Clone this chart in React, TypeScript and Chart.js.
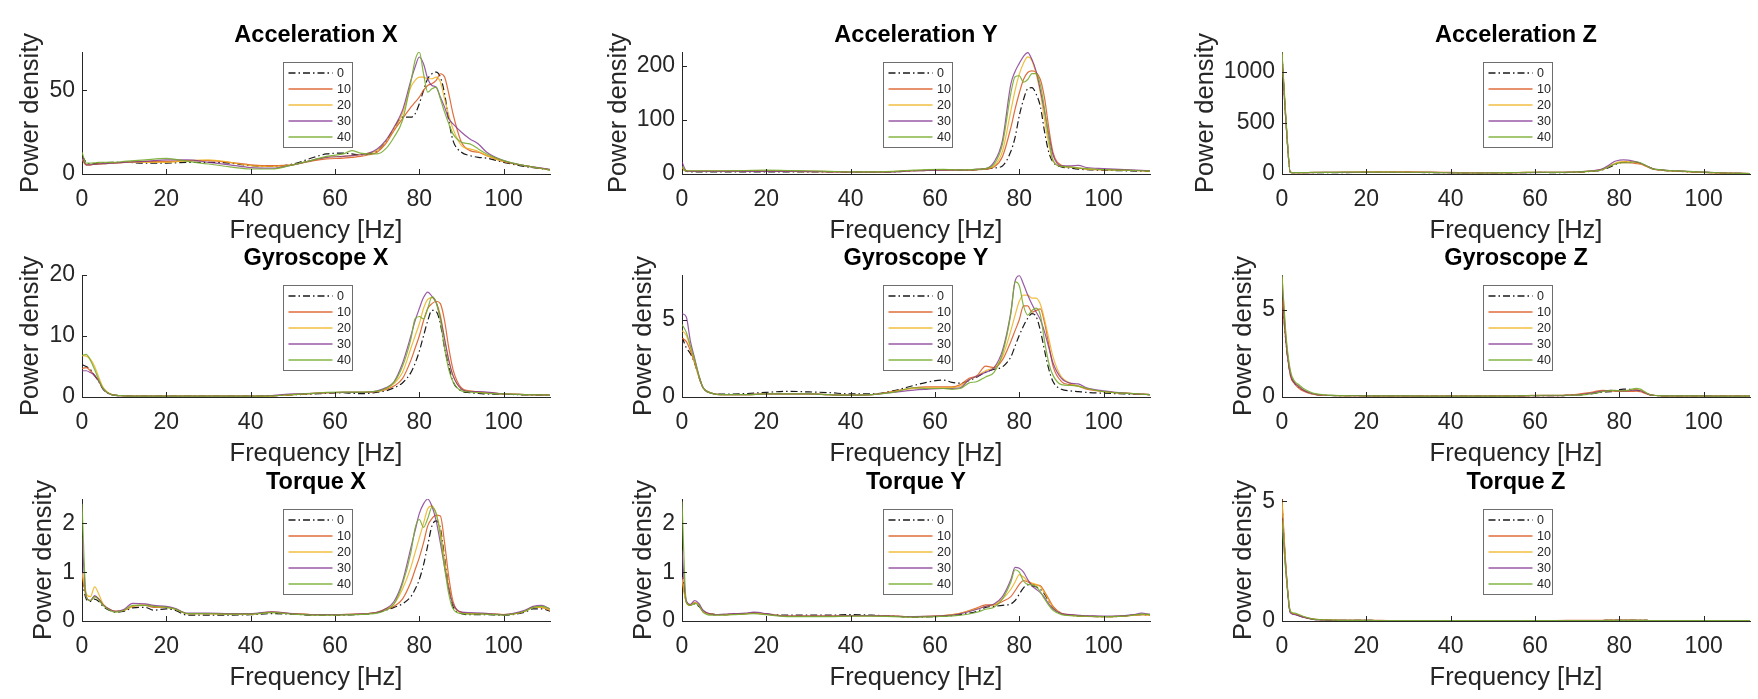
import React, { useEffect, useRef } from 'react';
import { Chart, registerables } from 'chart.js';

Chart.register(...registerables);

const FONT = "'Liberation Sans', Arial, Helvetica, sans-serif";
const TEXT = '#262626';

// ---------- shared categories ----------
const FREQ = [0, 1, 2, 3, 4, 5, 7, 10, 15, 20, 25, 30, 35, 40, 45, 50, 55, 58, 62, 64, 66, 68, 70, 72, 74, 76, 78, 79, 80, 81, 82, 83, 84, 85, 86, 87, 88, 90, 92, 94, 96, 100, 105, 111];
const FREQ_T = [0, 1, 2, 3, 4, 5, 7, 8, 10, 12, 15, 17, 20, 22, 25, 30, 35, 40, 45, 50, 55, 60, 65, 70, 72, 74, 76, 78, 79, 80, 81, 82, 83, 84, 85, 86, 87, 88, 90, 92, 95, 100, 102, 105, 107, 109, 111];
const SERIES_LABELS = ['0', '10', '20', '30', '40'];
const SERIES_COLORS = ['#1a1a1a', 'rgba(217,83,25,0.85)', 'rgba(237,177,32,0.85)', 'rgba(126,47,142,0.8)', 'rgba(119,172,48,0.9)'];
const X_TICKS = [0, 20, 40, 60, 80, 100];
const X_MAX = 111;
const X_LABEL = 'Frequency [Hz]';
const Y_LABEL = 'Power density';

// ---------- Acceleration X ----------
const ACC_X_0 = [11, 7, 6, 6.2, 6.5, 6.7, 7, 7, 6.5, 6.5, 7, 7, 6.5, 5, 4.5, 6, 10, 12, 12.5, 12, 11.5, 12, 14, 19, 27, 34, 34, 36, 42, 50, 57, 60, 61, 58, 48, 32, 20, 13, 11, 10, 9.5, 7, 4.5, 2.5];
const ACC_X_10 = [9, 5.5, 5.5, 5.8, 6, 6.2, 6.5, 7, 7.5, 7.5, 8, 8, 7, 5.5, 5, 5.5, 8, 9, 9.5, 10, 10.5, 11.5, 13, 18, 26, 33, 40, 43, 46, 50, 53, 54, 56, 60, 58, 48, 36, 19, 14, 13, 11, 7.5, 5, 2.5];
const ACC_X_20 = [9, 5.5, 5.5, 5.8, 6, 6.2, 6.5, 7, 7, 7, 8, 8.5, 7, 5, 4.5, 5.5, 8.5, 10, 10.5, 11, 11.5, 12.5, 14, 19, 27, 36, 52, 56, 58, 58, 57, 57, 58, 55, 45, 35, 27, 17, 15, 13.5, 11, 7.5, 5, 2.5];
const ACC_X_30 = [10, 5.5, 5.5, 5.8, 6, 6.2, 6.5, 7, 7.5, 8.5, 8.5, 7, 5.5, 3.8, 3.5, 5.5, 8.5, 10, 10.5, 11, 11.5, 12.5, 15, 20, 28, 38, 56, 64, 70, 66, 57, 53, 52, 46, 40, 33, 30, 25, 21, 18, 13, 8, 5, 2.8];
const ACC_X_40 = [13, 6.5, 6.5, 6.7, 7, 7, 7, 7.5, 8.5, 9.3, 7.5, 6, 4.3, 3, 3, 5.5, 8.5, 10.5, 12, 14, 12.5, 12, 12, 15, 22, 32, 55, 68, 73, 60, 49, 51, 52, 45, 37, 30, 24, 19, 18, 15, 12, 8, 5, 2.5];

// ---------- Acceleration Y ----------
const ACC_Y_0 = [10, 5, 4, 4, 4, 4, 4, 4, 4, 4, 4, 4, 4, 3.5, 3.5, 4, 6, 7, 8, 7.5, 7, 7, 8, 9, 11, 15, 42, 68, 108, 138, 158, 160, 148, 125, 78, 40, 22, 13, 11, 9, 8, 7, 6, 5];
const ACC_Y_10 = [12, 6, 5.5, 5.5, 5.5, 5.5, 5.5, 5.5, 6, 6, 5.5, 5, 4.5, 4, 4, 4.5, 6, 6.5, 7, 7, 6.5, 7, 8, 9, 13, 32, 86, 120, 150, 175, 188, 191, 188, 175, 140, 85, 40, 16, 13, 11, 9, 8, 7, 5.5];
const ACC_Y_20 = [10, 5.5, 5, 5, 5, 5, 5, 5, 5.5, 5.5, 5, 4.5, 4, 3.5, 3.5, 4.5, 6.5, 7, 7.5, 7, 7, 7.5, 8.5, 10, 15, 42, 117, 155, 185, 205, 217, 210, 185, 150, 100, 55, 25, 14, 13, 11, 9, 8, 7, 5.5];
const ACC_Y_30 = [22, 6, 5, 5, 5, 5, 5, 5, 5, 5, 5, 4.5, 4, 3.5, 3.5, 4, 6, 6.5, 7, 7, 7, 7.5, 9, 10, 22, 62, 167, 190, 205, 218, 225, 212, 190, 155, 115, 72, 35, 15, 15, 16, 12, 10, 8, 6];
const ACC_Y_40 = [14, 6, 6, 6, 6, 6, 6, 6, 6.5, 7, 6.5, 6, 5, 4, 4, 5, 7, 8, 8.5, 8, 7.5, 8, 8.5, 10, 18, 55, 150, 180, 182, 170, 175, 186, 186, 165, 120, 65, 25, 14, 13, 11, 10, 8, 7, 5.5];

// ---------- Acceleration Z ----------
const ACC_Z_0 = [1170, 480, 15, 12, 12, 12, 12, 12, 14, 15, 15, 15, 14, 12, 10, 10, 12, 14, 15, 14, 14, 15, 18, 22, 28, 40, 72, 92, 108, 115, 118, 117, 115, 105, 88, 68, 50, 38, 30, 26, 22, 16, 9, 4];
const ACC_Z_10 = [1160, 470, 16, 14, 14, 14, 15, 16, 18, 20, 20, 20, 18, 15, 12, 12, 14, 15, 16, 16, 16, 18, 20, 26, 32, 45, 82, 100, 110, 112, 112, 108, 102, 95, 82, 64, 48, 38, 32, 28, 24, 16, 9, 4];
const ACC_Z_20 = [1175, 490, 15, 13, 13, 13, 14, 15, 17, 18, 18, 18, 16, 13, 11, 11, 13, 15, 16, 15, 15, 17, 20, 24, 30, 44, 85, 105, 118, 122, 122, 118, 112, 100, 85, 66, 49, 38, 31, 28, 24, 16, 9, 4];
const ACC_Z_30 = [1150, 470, 15, 13, 13, 13, 14, 15, 16, 17, 17, 17, 15, 12, 10, 11, 13, 14, 15, 15, 15, 17, 20, 25, 33, 52, 100, 125, 135, 138, 135, 128, 118, 105, 88, 68, 50, 40, 33, 30, 26, 18, 10, 4];
const ACC_Z_40 = [1193, 500, 16, 14, 14, 14, 15, 16, 18, 19, 18, 17, 15, 12, 10, 11, 14, 16, 17, 16, 16, 17, 20, 24, 30, 42, 80, 98, 108, 110, 110, 115, 120, 110, 90, 68, 50, 40, 33, 30, 26, 18, 10, 4];

// ---------- Gyroscope X ----------
const GYR_X_0 = [5.3, 5.0, 4.5, 3.5, 2.5, 1.3, 0.4, 0.2, 0.15, 0.15, 0.15, 0.15, 0.15, 0.15, 0.2, 0.35, 0.5, 0.6, 0.7, 0.6, 0.55, 0.6, 0.8, 1.0, 1.5, 2.3, 4, 5.5, 7.5, 10, 12.5, 14.2, 14, 12, 8, 5, 2.5, 1, 0.7, 0.6, 0.5, 0.45, 0.35, 0.3];
const GYR_X_10 = [4.7, 4.8, 4.3, 3.5, 2.6, 1.4, 0.4, 0.2, 0.15, 0.15, 0.15, 0.15, 0.15, 0.15, 0.2, 0.4, 0.6, 0.7, 0.75, 0.75, 0.75, 0.8, 0.9, 1.2, 1.8, 3.0, 6, 8, 10, 12.5, 14.5, 15.3, 15.7, 15.3, 12.5, 8, 4.5, 1.5, 1.0, 0.8, 0.7, 0.5, 0.4, 0.3];
const GYR_X_20 = [6.8, 6.7, 6.2, 5.0, 3.2, 1.6, 0.45, 0.2, 0.15, 0.15, 0.15, 0.15, 0.15, 0.15, 0.2, 0.4, 0.6, 0.7, 0.75, 0.75, 0.75, 0.8, 0.9, 1.3, 2.2, 4.0, 8, 10, 12, 14.5, 16, 16.3, 15.5, 13.5, 9.5, 6, 3.5, 1.3, 0.9, 0.8, 0.7, 0.5, 0.4, 0.3];
const GYR_X_30 = [4.3, 4.3, 4.0, 3.5, 2.6, 1.3, 0.4, 0.2, 0.15, 0.15, 0.15, 0.15, 0.15, 0.15, 0.25, 0.5, 0.6, 0.7, 0.75, 0.75, 0.75, 0.8, 1.0, 1.5, 2.5, 5.5, 10, 12.5, 14.5, 16.3, 17.2, 16.5, 15.5, 13, 9.5, 6, 3.5, 1.3, 0.9, 0.9, 0.8, 0.5, 0.4, 0.3];
const GYR_X_40 = [6.8, 7.0, 6.0, 4.5, 2.8, 1.4, 0.4, 0.2, 0.15, 0.15, 0.15, 0.15, 0.15, 0.15, 0.2, 0.4, 0.6, 0.75, 0.8, 0.8, 0.8, 0.85, 0.95, 1.4, 2.4, 5.0, 9.5, 12.8, 13.2, 12.8, 14.5, 16.4, 15.5, 12.5, 8, 4.5, 2.5, 1.0, 0.8, 0.7, 0.6, 0.5, 0.4, 0.3];

// ---------- Gyroscope Y ----------
const GYR_Y_0 = [3.9, 3.2, 2.8, 2.2, 1.3, 0.6, 0.25, 0.18, 0.22, 0.3, 0.37, 0.33, 0.28, 0.2, 0.2, 0.4, 0.75, 0.95, 1.1, 0.95, 0.9, 1.05, 1.3, 1.6, 1.8, 1.95, 2.6, 3.3, 4.0, 4.6, 5.1, 5.4, 5.2, 4.3, 3.0, 1.8, 1.0, 0.5, 0.4, 0.35, 0.3, 0.25, 0.2, 0.15];
const GYR_Y_10 = [3.8, 3.6, 3.0, 2.2, 1.3, 0.6, 0.25, 0.15, 0.15, 0.2, 0.2, 0.2, 0.15, 0.12, 0.15, 0.35, 0.6, 0.65, 0.65, 0.65, 0.8, 1.2, 1.4, 2.0, 1.9, 2.4, 3.6, 4.3, 5.0, 5.9, 5.9, 5.5, 5.6, 5.7, 4.8, 3.4, 2.0, 1.0, 0.8, 0.7, 0.5, 0.35, 0.25, 0.15];
const GYR_Y_20 = [4.3, 4.0, 3.2, 2.3, 1.3, 0.6, 0.25, 0.15, 0.15, 0.2, 0.2, 0.2, 0.15, 0.12, 0.15, 0.35, 0.55, 0.6, 0.6, 0.62, 0.7, 1.1, 1.35, 1.7, 1.9, 2.6, 4.3, 5.3, 6.2, 6.6, 6.6, 6.4, 6.4, 6.0, 5.0, 3.8, 2.6, 1.3, 0.9, 0.7, 0.55, 0.35, 0.25, 0.15];
const GYR_Y_30 = [5.4, 5.2, 3.6, 2.5, 1.4, 0.6, 0.25, 0.15, 0.15, 0.2, 0.2, 0.2, 0.15, 0.12, 0.15, 0.3, 0.45, 0.5, 0.55, 0.55, 0.6, 1.1, 1.35, 1.6, 1.9, 3.0, 5.5, 7.5, 7.85, 7.3, 6.6, 6.0, 5.5, 5.0, 4.2, 3.2, 2.2, 1.2, 0.9, 0.85, 0.6, 0.4, 0.25, 0.15];
const GYR_Y_40 = [4.7, 4.2, 3.3, 2.4, 1.4, 0.6, 0.25, 0.15, 0.15, 0.2, 0.2, 0.2, 0.15, 0.12, 0.15, 0.3, 0.6, 0.55, 0.55, 0.5, 0.55, 0.9, 1.0, 1.3, 1.6, 2.8, 5.4, 7.45, 7.2, 5.9, 5.3, 5.6, 5.75, 5.3, 3.6, 2.2, 1.4, 0.8, 0.75, 0.7, 0.55, 0.35, 0.25, 0.15];

// ---------- Gyroscope Z ----------
const GYR_Z_0 = [6.0, 3.0, 1.3, 0.8, 0.55, 0.4, 0.2, 0.1, 0.08, 0.07, 0.06, 0.06, 0.05, 0.05, 0.05, 0.05, 0.06, 0.07, 0.08, 0.08, 0.08, 0.1, 0.12, 0.15, 0.2, 0.28, 0.3, 0.35, 0.42, 0.45, 0.45, 0.42, 0.4, 0.35, 0.25, 0.15, 0.1, 0.07, 0.06, 0.06, 0.06, 0.06, 0.05, 0.05];
const GYR_Z_10 = [5.6, 3.0, 1.2, 0.75, 0.5, 0.35, 0.18, 0.1, 0.08, 0.07, 0.06, 0.06, 0.05, 0.05, 0.05, 0.06, 0.07, 0.08, 0.1, 0.1, 0.1, 0.12, 0.15, 0.22, 0.3, 0.38, 0.36, 0.33, 0.32, 0.32, 0.32, 0.32, 0.33, 0.3, 0.22, 0.14, 0.1, 0.07, 0.06, 0.06, 0.06, 0.06, 0.05, 0.05];
const GYR_Z_20 = [6.9, 3.3, 1.4, 0.85, 0.6, 0.4, 0.2, 0.1, 0.08, 0.07, 0.06, 0.06, 0.05, 0.05, 0.05, 0.05, 0.06, 0.07, 0.08, 0.08, 0.08, 0.1, 0.12, 0.18, 0.26, 0.34, 0.36, 0.35, 0.35, 0.36, 0.38, 0.4, 0.42, 0.38, 0.28, 0.16, 0.1, 0.07, 0.06, 0.06, 0.06, 0.06, 0.05, 0.05];
const GYR_Z_30 = [6.5, 3.1, 1.3, 0.8, 0.6, 0.4, 0.2, 0.1, 0.08, 0.07, 0.06, 0.06, 0.05, 0.05, 0.05, 0.05, 0.06, 0.07, 0.08, 0.08, 0.08, 0.1, 0.12, 0.18, 0.25, 0.34, 0.38, 0.36, 0.35, 0.35, 0.36, 0.38, 0.4, 0.36, 0.26, 0.15, 0.1, 0.07, 0.06, 0.06, 0.06, 0.06, 0.05, 0.05];
const GYR_Z_40 = [7.0, 3.4, 1.5, 0.9, 0.7, 0.5, 0.25, 0.12, 0.08, 0.07, 0.06, 0.06, 0.05, 0.05, 0.05, 0.05, 0.06, 0.08, 0.1, 0.1, 0.1, 0.1, 0.11, 0.14, 0.2, 0.3, 0.38, 0.38, 0.36, 0.36, 0.38, 0.45, 0.5, 0.45, 0.3, 0.16, 0.1, 0.07, 0.06, 0.06, 0.06, 0.06, 0.05, 0.05];

// ---------- Torque X ----------
const TRQ_X_0 = [0.85, 0.45, 0.4, 0.45, 0.4, 0.3, 0.2, 0.18, 0.2, 0.27, 0.28, 0.22, 0.25, 0.22, 0.12, 0.12, 0.12, 0.13, 0.15, 0.14, 0.12, 0.12, 0.13, 0.17, 0.22, 0.28, 0.35, 0.5, 0.65, 0.85, 1.15, 1.55, 1.95, 2.05, 1.9, 1.3, 0.7, 0.3, 0.15, 0.13, 0.13, 0.12, 0.13, 0.18, 0.25, 0.25, 0.2];
const TRQ_X_10 = [0.95, 0.5, 0.42, 0.5, 0.45, 0.33, 0.22, 0.2, 0.22, 0.3, 0.32, 0.28, 0.28, 0.25, 0.15, 0.15, 0.14, 0.14, 0.18, 0.15, 0.13, 0.13, 0.14, 0.18, 0.23, 0.3, 0.45, 0.8, 1.05, 1.3, 1.6, 1.95, 2.1, 2.17, 2.15, 1.6, 0.9, 0.4, 0.18, 0.15, 0.15, 0.13, 0.14, 0.2, 0.28, 0.28, 0.22];
const TRQ_X_20 = [1.0, 0.55, 0.5, 0.7, 0.55, 0.35, 0.22, 0.2, 0.22, 0.3, 0.33, 0.3, 0.28, 0.25, 0.15, 0.15, 0.14, 0.14, 0.18, 0.15, 0.13, 0.13, 0.14, 0.18, 0.25, 0.35, 0.65, 1.1, 1.4, 1.7, 2.0, 2.3, 2.36, 2.2, 1.85, 1.25, 0.7, 0.35, 0.17, 0.15, 0.15, 0.13, 0.14, 0.2, 0.28, 0.28, 0.22];
const TRQ_X_30 = [1.7, 0.5, 0.42, 0.52, 0.45, 0.33, 0.22, 0.2, 0.24, 0.36, 0.35, 0.32, 0.3, 0.26, 0.16, 0.16, 0.15, 0.15, 0.19, 0.15, 0.13, 0.13, 0.14, 0.18, 0.25, 0.4, 0.8, 1.5, 1.85, 2.2, 2.4, 2.5, 2.35, 2.05, 1.6, 1.1, 0.65, 0.35, 0.18, 0.17, 0.16, 0.13, 0.15, 0.22, 0.3, 0.32, 0.25];
const TRQ_X_40 = [2.4, 0.5, 0.42, 0.5, 0.43, 0.32, 0.2, 0.18, 0.22, 0.32, 0.32, 0.3, 0.28, 0.25, 0.15, 0.15, 0.14, 0.14, 0.17, 0.14, 0.12, 0.12, 0.13, 0.16, 0.22, 0.35, 0.75, 1.4, 1.9, 2.08, 1.92, 2.1, 2.33, 2.2, 1.75, 1.1, 0.55, 0.25, 0.15, 0.14, 0.14, 0.12, 0.14, 0.2, 0.28, 0.3, 0.25];

// ---------- Torque Y ----------
const TRQ_Y_0 = [1.0, 0.4, 0.32, 0.35, 0.3, 0.2, 0.14, 0.13, 0.13, 0.14, 0.15, 0.16, 0.14, 0.13, 0.12, 0.12, 0.12, 0.13, 0.12, 0.1, 0.08, 0.09, 0.12, 0.2, 0.28, 0.3, 0.32, 0.35, 0.42, 0.55, 0.68, 0.74, 0.72, 0.7, 0.65, 0.55, 0.4, 0.28, 0.15, 0.12, 0.1, 0.09, 0.09, 0.1, 0.12, 0.13, 0.12];
const TRQ_Y_10 = [0.9, 0.4, 0.32, 0.38, 0.33, 0.2, 0.14, 0.13, 0.13, 0.14, 0.15, 0.16, 0.14, 0.12, 0.1, 0.1, 0.1, 0.11, 0.11, 0.1, 0.09, 0.1, 0.14, 0.27, 0.33, 0.33, 0.4, 0.5, 0.62, 0.75, 0.83, 0.8, 0.76, 0.74, 0.72, 0.6, 0.45, 0.3, 0.16, 0.13, 0.1, 0.09, 0.09, 0.1, 0.12, 0.13, 0.12];
const TRQ_Y_20 = [0.85, 0.38, 0.32, 0.37, 0.33, 0.2, 0.14, 0.13, 0.13, 0.14, 0.15, 0.16, 0.14, 0.12, 0.1, 0.1, 0.1, 0.11, 0.11, 0.1, 0.09, 0.1, 0.14, 0.25, 0.3, 0.33, 0.45, 0.65, 0.8, 0.95, 0.9, 0.82, 0.78, 0.75, 0.7, 0.58, 0.42, 0.28, 0.15, 0.12, 0.1, 0.09, 0.09, 0.1, 0.12, 0.13, 0.12];
const TRQ_Y_30 = [1.45, 0.42, 0.34, 0.42, 0.36, 0.22, 0.14, 0.13, 0.14, 0.15, 0.16, 0.18, 0.15, 0.12, 0.1, 0.1, 0.1, 0.11, 0.11, 0.1, 0.09, 0.1, 0.13, 0.24, 0.3, 0.35, 0.5, 0.85, 1.1, 1.08, 1.0, 0.85, 0.72, 0.65, 0.58, 0.48, 0.35, 0.25, 0.15, 0.13, 0.11, 0.1, 0.1, 0.11, 0.13, 0.16, 0.14];
const TRQ_Y_40 = [2.45, 0.4, 0.32, 0.36, 0.32, 0.18, 0.12, 0.12, 0.12, 0.13, 0.14, 0.15, 0.13, 0.11, 0.09, 0.09, 0.09, 0.1, 0.1, 0.09, 0.08, 0.09, 0.11, 0.18, 0.24, 0.28, 0.45, 0.8, 1.05, 1.0, 0.82, 0.75, 0.74, 0.7, 0.6, 0.45, 0.32, 0.22, 0.13, 0.11, 0.1, 0.09, 0.09, 0.1, 0.12, 0.14, 0.13];

// ---------- Torque Z ----------
const TRQ_Z_0 = [4.9, 2.0, 0.35, 0.28, 0.22, 0.16, 0.08, 0.06, 0.04, 0.03, 0.03, 0.03, 0.03, 0.02, 0.02, 0.02, 0.02, 0.02, 0.02, 0.02, 0.02, 0.02, 0.02, 0.02, 0.02, 0.02, 0.02, 0.03, 0.03, 0.03, 0.03, 0.03, 0.03, 0.03, 0.03, 0.03, 0.02, 0.02, 0.02, 0.02, 0.02, 0.02, 0.02, 0.02, 0.02, 0.02, 0.02];
const TRQ_Z_10 = [5.1, 2.1, 0.38, 0.3, 0.24, 0.17, 0.09, 0.07, 0.05, 0.04, 0.03, 0.03, 0.03, 0.03, 0.02, 0.02, 0.02, 0.02, 0.02, 0.02, 0.02, 0.02, 0.02, 0.03, 0.03, 0.03, 0.03, 0.04, 0.04, 0.04, 0.04, 0.04, 0.04, 0.03, 0.03, 0.03, 0.02, 0.02, 0.02, 0.02, 0.02, 0.02, 0.02, 0.02, 0.02, 0.02, 0.02];
const TRQ_Z_20 = [5.0, 2.0, 0.36, 0.29, 0.23, 0.17, 0.09, 0.07, 0.05, 0.04, 0.03, 0.03, 0.03, 0.02, 0.02, 0.02, 0.02, 0.02, 0.02, 0.02, 0.02, 0.02, 0.02, 0.02, 0.02, 0.02, 0.02, 0.03, 0.03, 0.03, 0.03, 0.03, 0.03, 0.03, 0.03, 0.03, 0.02, 0.02, 0.02, 0.02, 0.02, 0.02, 0.02, 0.02, 0.02, 0.02, 0.02];
const TRQ_Z_30 = [4.3, 1.9, 0.33, 0.27, 0.22, 0.16, 0.08, 0.06, 0.04, 0.03, 0.03, 0.03, 0.03, 0.02, 0.02, 0.02, 0.02, 0.02, 0.02, 0.02, 0.02, 0.02, 0.02, 0.02, 0.02, 0.02, 0.02, 0.03, 0.03, 0.03, 0.03, 0.03, 0.03, 0.03, 0.03, 0.03, 0.02, 0.02, 0.02, 0.02, 0.02, 0.02, 0.02, 0.02, 0.02, 0.02, 0.02];
const TRQ_Z_40 = [4.2, 1.9, 0.4, 0.33, 0.27, 0.2, 0.1, 0.07, 0.05, 0.04, 0.03, 0.03, 0.03, 0.02, 0.02, 0.02, 0.02, 0.02, 0.02, 0.02, 0.02, 0.02, 0.02, 0.02, 0.02, 0.02, 0.02, 0.03, 0.03, 0.03, 0.03, 0.03, 0.03, 0.03, 0.03, 0.03, 0.02, 0.02, 0.02, 0.02, 0.02, 0.02, 0.02, 0.02, 0.02, 0.02, 0.02];

// ---------- panel titles / y-axis ranges / y ticks ----------
const TITLES = ['Acceleration X', 'Acceleration Y', 'Acceleration Z', 'Gyroscope X', 'Gyroscope Y', 'Gyroscope Z', 'Torque X', 'Torque Y', 'Torque Z'];
const Y_MAX = [73, 226, 1193, 20, 7.9, 7.0, 2.5, 2.5, 5.1];
const Y_TICKS = [[0, 50], [0, 100, 200], [0, 500, 1000], [0, 10, 20], [0, 5], [0, 5], [0, 1, 2], [0, 1, 2], [0, 5]];
const PANEL_FREQ = [FREQ, FREQ, FREQ, FREQ, FREQ, FREQ, FREQ_T, FREQ_T, FREQ_T];
const PANEL_SERIES = [
  [ACC_X_0, ACC_X_10, ACC_X_20, ACC_X_30, ACC_X_40],
  [ACC_Y_0, ACC_Y_10, ACC_Y_20, ACC_Y_30, ACC_Y_40],
  [ACC_Z_0, ACC_Z_10, ACC_Z_20, ACC_Z_30, ACC_Z_40],
  [GYR_X_0, GYR_X_10, GYR_X_20, GYR_X_30, GYR_X_40],
  [GYR_Y_0, GYR_Y_10, GYR_Y_20, GYR_Y_30, GYR_Y_40],
  [GYR_Z_0, GYR_Z_10, GYR_Z_20, GYR_Z_30, GYR_Z_40],
  [TRQ_X_0, TRQ_X_10, TRQ_X_20, TRQ_X_30, TRQ_X_40],
  [TRQ_Y_0, TRQ_Y_10, TRQ_Y_20, TRQ_Y_30, TRQ_Y_40],
  [TRQ_Z_0, TRQ_Z_10, TRQ_Z_20, TRQ_Z_30, TRQ_Z_40],
];

// ---------- layout ----------
const LEFT_EXTRA = 40;
const COL_X = [0, 600, 1200];
const COL_W = [600, 600, 558];
const ROW_Y = [0, 223, 447];
const CANVAS_H = 252;
const AREA_LEFT = 82 + LEFT_EXTRA;
const AREA_TOP = 52;
const AREA_W = 468;
const AREA_H = 122;
const TICK_SIZE = 23;
const LABEL_SIZE = 25.5;
const TITLE_SIZE = 23.5;
const DASH_DOT = [7, 3, 1.5, 3];

function Panel({ index }: { index: number }) {
  const ref = useRef<HTMLCanvasElement>(null);
  const col = index % 3;
  const row = Math.floor(index / 3);
  const W = COL_W[col] + LEFT_EXTRA;
  const H = CANVAS_H;

  useEffect(() => {
    const canvas = ref.current;
    if (!canvas) return;
    const freq = PANEL_FREQ[index];
    const series = PANEL_SERIES[index];
    const yTicks = Y_TICKS[index];
    const title = TITLES[index];

    const datasets = series.map((vals, i) => ({
      label: SERIES_LABELS[i],
      data: freq.map((f, k) => ({ x: f, y: vals[k] })),
      borderColor: SERIES_COLORS[i],
      borderWidth: 1.2,
      borderDash: i === 0 ? DASH_DOT : [],
      pointRadius: 0,
      fill: false,
      cubicInterpolationMode: 'monotone' as const,
      order: 4 - i,
    }));

    const decor = {
      id: 'matlabDecor',
      afterDatasetsDraw(chart: any) {
        const { ctx, chartArea: a, scales } = chart;
        const xs = scales.x;
        const ys = scales.y;
        ctx.save();
        // inward tick marks
        ctx.strokeStyle = TEXT;
        ctx.lineWidth = 1;
        ctx.setLineDash([]);
        ctx.beginPath();
        for (const t of xs.ticks) {
          const px = Math.round(xs.getPixelForValue(t.value)) + 0.5;
          ctx.moveTo(px, a.bottom);
          ctx.lineTo(px, a.bottom - 5);
        }
        for (const t of ys.ticks) {
          const py = Math.round(ys.getPixelForValue(t.value)) + 0.5;
          ctx.moveTo(a.left, py);
          ctx.lineTo(a.left + 5, py);
        }
        ctx.stroke();

        // legend box (north, inside)
        const lw = 69;
        const lh = 85;
        const lx = Math.round((a.left + a.right) / 2 - lw / 2 + 1) + 0.5;
        const ly = Math.round(a.top + 9.5) + 0.5;
        ctx.fillStyle = '#ffffff';
        ctx.fillRect(lx, ly, lw, lh);
        ctx.strokeStyle = '#6e6e6e';
        ctx.lineWidth = 1;
        ctx.strokeRect(lx, ly, lw, lh);
        ctx.font = `12.5px ${FONT}`;
        ctx.textAlign = 'left';
        ctx.textBaseline = 'middle';
        for (let i = 0; i < SERIES_LABELS.length; i++) {
          const y = ly + 10.5 + i * 16;
          ctx.strokeStyle = SERIES_COLORS[i];
          ctx.lineWidth = 1.3;
          ctx.setLineDash(i === 0 ? DASH_DOT : []);
          ctx.beginPath();
          ctx.moveTo(lx + 5, y);
          ctx.lineTo(lx + 49, y);
          ctx.stroke();
          ctx.setLineDash([]);
          ctx.fillStyle = TEXT;
          ctx.fillText(SERIES_LABELS[i], lx + 53.5, y + 0.5);
        }
        ctx.restore();
      },
      afterDraw(chart: any) {
        const { ctx, chartArea: a } = chart;
        const cx = (a.left + a.right) / 2;
        ctx.save();
        // title
        ctx.fillStyle = '#000000';
        ctx.font = `bold ${TITLE_SIZE}px ${FONT}`;
        ctx.textAlign = 'center';
        ctx.textBaseline = 'alphabetic';
        ctx.fillText(title, cx, a.top - 10);
        // x label
        ctx.fillStyle = TEXT;
        ctx.font = `${LABEL_SIZE}px ${FONT}`;
        ctx.fillText(X_LABEL, cx, a.bottom + 64.3);
        // y label, left of the widest tick label
        ctx.font = `${TICK_SIZE}px ${FONT}`;
        let maxW = 0;
        for (const v of yTicks) maxW = Math.max(maxW, ctx.measureText(String(v)).width);
        const bx = a.left - 7 - maxW - 11;
        ctx.font = `${LABEL_SIZE}px ${FONT}`;
        ctx.translate(bx, (a.top + a.bottom) / 2);
        ctx.rotate(-Math.PI / 2);
        ctx.fillText(Y_LABEL, 0, 0);
        ctx.restore();
      },
    };

    const chart = new Chart(canvas, {
      type: 'line',
      data: { datasets },
      options: {
        animation: false,
        responsive: false,
        devicePixelRatio: 1,
        events: [],
        layout: { padding: { left: 0, top: AREA_TOP, right: W - AREA_LEFT - AREA_W, bottom: 0 } },
        plugins: { legend: { display: false }, tooltip: { enabled: false }, title: { display: false } },
        scales: {
          x: {
            type: 'linear',
            min: 0,
            max: X_MAX,
            afterBuildTicks: (s: any) => { s.ticks = X_TICKS.map((v) => ({ value: v })); },
            afterFit: (s: any) => { s.height = H - AREA_TOP - AREA_H; },
            grid: { display: true, drawOnChartArea: false, drawTicks: false },
            border: { display: true, color: TEXT, width: 1 },
            ticks: { color: TEXT, font: { family: FONT, size: TICK_SIZE }, padding: 12, maxRotation: 0, autoSkip: false, callback: (v: any) => String(v) },
          },
          y: {
            type: 'linear',
            min: 0,
            max: Y_MAX[index],
            afterBuildTicks: (s: any) => { s.ticks = yTicks.map((v) => ({ value: v })); },
            afterFit: (s: any) => { s.width = AREA_LEFT; },
            grid: { display: true, drawOnChartArea: false, drawTicks: false },
            border: { display: true, color: TEXT, width: 1 },
            ticks: { color: TEXT, font: { family: FONT, size: TICK_SIZE }, padding: 7, autoSkip: false, callback: (v: any) => String(v) },
          },
        },
      },
      plugins: [decor],
    } as any);

    return () => chart.destroy();
  }, [index, W, H]);

  return (
    <canvas
      ref={ref}
      width={W}
      height={H}
      style={{ position: 'absolute', left: COL_X[col] - LEFT_EXTRA, top: ROW_Y[row], width: W, height: H }}
    />
  );
}

export default function App() {
  return (
    <div style={{ position: 'fixed', left: 0, top: 0, width: 1758, height: 699, background: '#ffffff', overflow: 'hidden' }}>
      {TITLES.map((_, i) => (
        <Panel key={i} index={i} />
      ))}
    </div>
  );
}
